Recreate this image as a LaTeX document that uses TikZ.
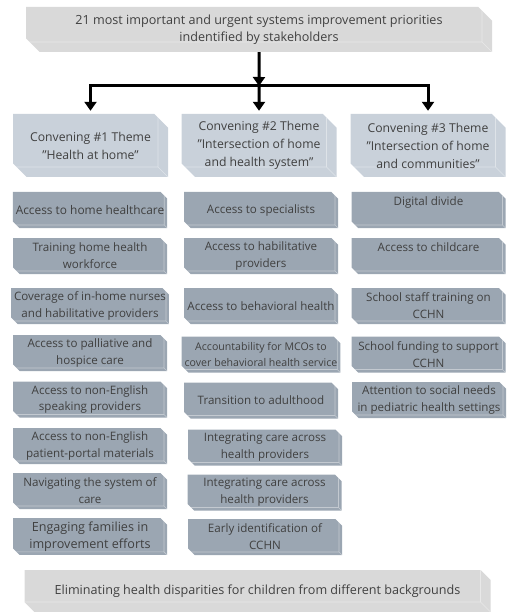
\documentclass[tikz,border=0pt]{standalone}
\usepackage{fontspec}
\setmainfont{Open Sans}
\usetikzlibrary{positioning,arrows.meta,shapes.misc}
\definecolor{ink}{HTML}{404040}
\definecolor{capbg}{HTML}{D9D9D9}
\definecolor{themebg}{HTML}{C9D1DA}
\definecolor{itembg}{HTML}{9BA6B2}
\newcommand{\qt}{\symbol{34}}
\tikzset{
  bevel/.style={chamfered rectangle,chamfered rectangle corners={north east,south west},
    chamfered rectangle xsep=#1,inner sep=0pt,align=center,text=ink,
    path picture={\draw[white,opacity=.4,line width=.6pt]
      ([xshift=-#1]path picture bounding box.north east)
      -- ([xshift=-#1,yshift=#1]path picture bounding box.south east)
      -- ([yshift=#1]path picture bounding box.south west)
      ([xshift=-#1,yshift=#1]path picture bounding box.south east)
      -- (path picture bounding box.south east);}},
  capbox/.style={bevel=10pt,fill=capbg,minimum width=466pt,minimum height=45pt,
    font=\fontsize{12.6}{17.5}\selectfont},
  themebox/.style={bevel=10pt,fill=themebg,minimum width=155pt,minimum height=63pt,
    font=\fontsize{12.2}{18}\selectfont},
  itembox/.style={bevel=3pt,fill=itembg,minimum width=154pt,minimum height=36pt,
    font=\fontsize{11.6}{16.8}\selectfont},
  ar/.style={-{Triangle[width=12pt,length=9pt]},line width=3pt,draw=black},
}
\begin{document}
\begin{tikzpicture}[x=1pt,y=-1pt]
  \useasboundingbox (0,0) rectangle (509,612);
  % source of the priorities
  \node[capbox] (top) at (259,29.5)
    {21 most important and urgent systems improvement priorities\\indentified by stakeholders};
  % three convening themes
  \node[themebox] (t1) at (90.5,145.5) {Convening \#1 Theme\\\qt Health at home\qt};
  \node[themebox] (t2) at (259,145.5) {Convening \#2 Theme\\\qt Intersection of home\\and health system\qt};
  \node[themebox] (t3) at (428,145.5) {Convening \#3 Theme\\\qt Intersection of home\\and communities\qt};
  \coordinate (split) at (259,86);
  \draw[ar] (top) -- (split);
  \draw[ar,shorten >=3pt] (split) -| (t1);
  \draw[ar,shorten >=3pt] (split) -- (t2);
  \draw[ar,shorten >=3pt] (split) -| (t3);
  % theme 1
  \node[itembox,font=\fontsize{11.9}{16.8}\selectfont] (a1) at (90,210) {Access to home healthcare};
  \node[itembox] (a2) at (90,256) {Training home health\\workforce};
  \node[itembox] (a3) at (90,306) {Coverage of in-home nurses\\and habilitative providers};
  \node[itembox] (a4) at (90,353) {Access to palliative and\\hospice care};
  \node[itembox] (a5) at (90,399.5) {Access to non-English\\speaking providers};
  \node[itembox] (a6) at (90,446) {Access to non-English\\patient-portal materials};
  \node[itembox] (a7) at (90,491) {Navigating the system of\\care};
  \node[itembox,font=\fontsize{12.6}{17}\selectfont] (a8) at (90,536.5) {Engaging families in\\improvement efforts};
  % theme 2
  \node[itembox] (b1) at (261,210) {Access to specialists};
  \node[itembox] (b2) at (261,256) {Access to habilitative\\providers};
  \node[itembox] (b3) at (261,306) {Access to behavioral health};
  \node[itembox,font=\fontsize{10.6}{16.5}\selectfont] (b4) at (261,354.5) {Accountability for MCOs to\\cover behavioral health service};
  \node[itembox] (b5) at (261,400.5) {Transition to adulthood};
  \node[itembox] (b6) at (265,447.5) {Integrating care across\\health providers};
  \node[itembox] (b7) at (264.5,492.5) {Integrating care across\\health providers};
  \node[itembox] (b8) at (265,537) {Early identification of\\CCHN};
  % theme 3
  \node[itembox,text depth=17pt] (c1) at (428.5,210) {Digital divide};
  \node[itembox,text depth=17pt] (c2) at (428.5,256) {Access to childcare};
  \node[itembox] (c3) at (428.5,306) {School staff training on\\CCHN};
  \node[itembox] (c4) at (428.5,354.5) {School funding to support\\CCHN};
  \node[itembox] (c5) at (429,400) {Attention to social needs\\in pediatric health settings};
  % common goal
  \node[capbox,minimum height=42pt] (goal) at (257.5,591)
    {Eliminating health disparities for children from different backgrounds};
\end{tikzpicture}
\end{document}
